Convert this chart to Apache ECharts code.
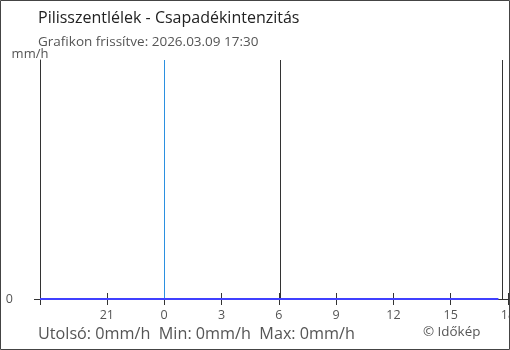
<!DOCTYPE html>
<html><head><meta charset="utf-8">
<script src="https://cdn.jsdelivr.net/npm/echarts@6/dist/echarts.min.js"></script>
<style>html,body{margin:0;padding:0;background:#fff}#c{width:510px;height:350px}</style>
</head><body><div id="c"></div>
<script>
// hours relative to midnight (negative = previous day)
const times = [-6.5,-5.5,-4.5,-3.5,-2.5,-1.5,-0.5,0.5,1.5,2.5,3.5,4.5,5.5,6.5,7.5,8.5,9.5,10.5,11.5,12.5,13.5,14.5,15.5,16.5,17.5];
const values = [0,0,0,0,0,0,0,0,0,0,0,0,0,0,0,0,0,0,0,0,0,0,0,0,0];
const tickHours = [-6.5,-3,0,3,6,9,12,15,18];
const labelHours = [-3,0,3,6,9,12,15,18];
const midnight = 0;
const sunrise = 6.1;
const sunset = 17.72;
const titleText = 'Pilisszentlélek - Csapadékintenzitás';
const subText = 'Grafikon frissítve: 2026.03.09 17:30';
const statsText = 'Utolsó: 0mm/h  Min: 0mm/h  Max: 0mm/h';
const creditText = '© Időkép';
const yName = 'mm/h';

const font = '"Open Sans", "Noto Sans", sans-serif';
const chart = echarts.init(document.getElementById('c'));
const fmt = v => String(((Math.round(v) % 24) + 24) % 24);
const xCommon = {
  type: 'value', min: -6.5, max: 18, gridIndex: 0, position: 'bottom',
  splitLine: {show: false}
};
chart.setOption({
  animation: false,
  title: [
    {text: titleText, left: 33, top: 5, textStyle: {fontFamily: font, fontSize: 16, fontWeight: 'normal', color: '#222'}},
    {text: subText, left: 33, top: 30, textStyle: {fontFamily: font, fontSize: 13.5, fontWeight: 'normal', color: '#555'}},
    {text: statsText, left: 33, top: 321, textStyle: {fontFamily: font, fontSize: 16.2, fontWeight: 'normal', color: '#555'}},
    {text: creditText, left: 418, top: 321, textStyle: {fontFamily: font, fontSize: 13.4, fontWeight: 'normal', color: '#555'}}
  ],
  graphic: [{type: 'rect', shape: {x: 0.5, y: 0.5, width: 509, height: 349}, style: {fill: 'none', stroke: '#444', lineWidth: 1}, z: 100}],
  grid: {left: 40, right: 2, top: 60, bottom: 51, outerBoundsMode: 'none', containLabel: false},
  xAxis: [
    Object.assign({}, xCommon, {
      axisLine: {show: true, onZero: false, lineStyle: {color: '#333', width: 1}},
      axisTick: {show: true, length: 6, customValues: tickHours, lineStyle: {color: '#333'}},
      axisLabel: {customValues: labelHours, formatter: fmt, margin: 10, color: '#555', fontFamily: font, fontSize: 12.5}
    }),
    Object.assign({}, xCommon, {
      axisLine: {show: false, onZero: false},
      axisTick: {show: true, inside: true, length: 6, customValues: tickHours, lineStyle: {color: '#333'}},
      axisLabel: {show: false}
    })
  ],
  yAxis: {
    type: 'value', min: 0, max: 1, name: yName, nameLocation: 'end', nameGap: -1,
    nameTextStyle: {fontFamily: font, fontSize: 13, color: '#555', align: 'center', padding: [0, 20, 0, 0]},
    axisLine: {show: true, onZero: false, lineStyle: {color: '#333'}},
    axisTick: {show: true, length: 6, customValues: [0], lineStyle: {color: '#333'}},
    axisLabel: {customValues: [0], margin: 27, color: '#555', fontFamily: font, fontSize: 12.5},
    splitLine: {show: false}
  },
  series: [{
    type: 'line', xAxisIndex: 0, data: times.map((t, i) => [t, values[i]]),
    symbol: 'none', lineStyle: {color: '#4040ff', width: 2}, z: 5,
    markLine: {
      silent: true, symbol: 'none', label: {show: false},
      data: [
        {xAxis: midnight, lineStyle: {color: '#2b90e0', width: 1, type: 'solid'}},
        {xAxis: sunrise, lineStyle: {color: '#333', width: 1, type: 'solid'}},
        {xAxis: sunset, lineStyle: {color: '#333', width: 1, type: 'solid'}}
      ]
    }
  }]
});
</script></body></html>
